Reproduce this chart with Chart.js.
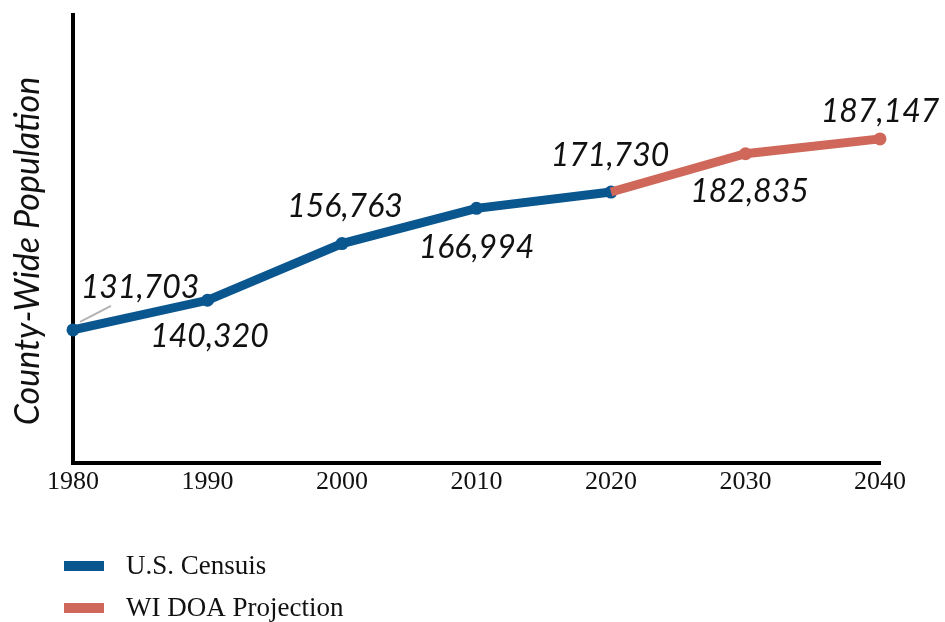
<!DOCTYPE html>
<html>
<head>
<meta charset="utf-8">
<script src="https://cdn.jsdelivr.net/npm/chart.js@4.4.1/dist/chart.umd.min.js"></script>
<style>
  html, body { margin: 0; padding: 0; background: #fff; }
  #wrap { width: 945px; height: 622px; position: relative; }
</style>
</head>
<body>
<div id="wrap"><canvas id="grafico" width="945" height="622"></canvas></div>
<script>
// datos
const anios = [1980, 1990, 2000, 2010, 2020, 2030, 2040];
const censo = [131703, 140320, 156763, 166994, 171730, null, null];
const proyeccion = [null, null, null, null, 171730, 182835, 187147];
const etiquetas = ["131,703", "140,320", "156,763", "166,994", "171,730", "182,835", "187,147"];

const AZUL = '#0a568f';
const ROJO = '#cf675a';

// desplazamiento de cada etiqueta respecto a su punto
const offsets = [[67, -42], [2, 36], [3, -37], [0, 39], [-1, -36], [4, 38], [0, -27]];

const puntos = (serie) => anios.map((a, i) => ({ x: a, y: serie[i] }));

const pluginEtiquetas = {
  id: 'etiquetas',
  afterDatasetsDraw(chart) {
    const ctx = chart.ctx;
    const xs = chart.scales.x, ys = chart.scales.y;
    ctx.save();
    // linea guia del primer valor
    const p0x = xs.getPixelForValue(anios[0]), p0y = ys.getPixelForValue(censo[0]);
    ctx.strokeStyle = '#b3b3b3';
    ctx.lineWidth = 2;
    ctx.beginPath();
    ctx.moveTo(p0x + 7, p0y - 8);
    ctx.lineTo(p0x + 38, p0y - 24);
    ctx.stroke();

    ctx.font = 'italic 32px Lato';
    ctx.fillStyle = '#111';
    ctx.textAlign = 'center';
    ctx.textBaseline = 'middle';
    anios.forEach((a, i) => {
      const v = censo[i] != null ? censo[i] : proyeccion[i];
      const px = xs.getPixelForValue(a), py = ys.getPixelForValue(v);
      ctx.fillText(etiquetas[i], px + offsets[i][0], py + offsets[i][1]);
    });

    // titulo eje Y
    ctx.save();
    ctx.translate(28, 251);
    ctx.rotate(-Math.PI / 2);
    ctx.font = 'italic 34px Lato';
    ctx.fillText('County-Wide Population', 0, 0);
    ctx.restore();

    // leyenda
    const items = [['U.S. Censuis', AZUL, 566], ['WI DOA Projection', ROJO, 608]];
    ctx.textAlign = 'left';
    ctx.font = '27px "Liberation Serif"';
    items.forEach(([txt, col, y]) => {
      ctx.fillStyle = col;
      ctx.fillRect(64, y - 5, 40, 10);
      ctx.fillStyle = '#111';
      ctx.fillText(txt, 126, y + 1);
    });
    ctx.restore();
  }
};

new Chart(document.getElementById('grafico'), {
  type: 'line',
  plugins: [pluginEtiquetas],
  data: {
    datasets: [
      {
        label: 'WI DOA Projection',
        data: puntos(proyeccion),
        borderColor: ROJO,
        backgroundColor: ROJO,
        borderWidth: 9,
        pointRadius: [0, 0, 0, 0, 0, 6.5, 6.5],
        pointBorderWidth: 0,
        clip: false,
        spanGaps: false
      },
      {
        label: 'U.S. Censuis',
        data: puntos(censo),
        borderColor: AZUL,
        backgroundColor: AZUL,
        borderWidth: 9,
        pointRadius: 6.5,
        pointBorderWidth: 0,
        clip: false,
        spanGaps: false
      }
    ]
  },
  options: {
    responsive: false,
    animation: false,
    layout: { padding: { top: 15, right: 65, left: 0, bottom: 0 } },
    scales: {
      x: {
        type: 'linear',
        min: 1980,
        max: 2040,
        grid: { display: false, drawTicks: false },
        border: { display: true, color: '#000', width: 4 },
        ticks: {
          stepSize: 10,
          padding: 4,
          color: '#111',
          font: { family: '"Liberation Serif"', size: 26 },
          callback: (v) => String(v)
        },
        afterFit: (s) => { s.height = 159; }
      },
      y: {
        min: 93100,
        max: 223100,
        grid: { display: false, drawTicks: false },
        border: { display: true, color: '#000', width: 4 },
        ticks: { display: false },
        afterFit: (s) => { s.width = 73; }
      }
    },
    plugins: {
      legend: { display: false },
      tooltip: { enabled: false }
    }
  }
});
</script>
</body>
</html>
